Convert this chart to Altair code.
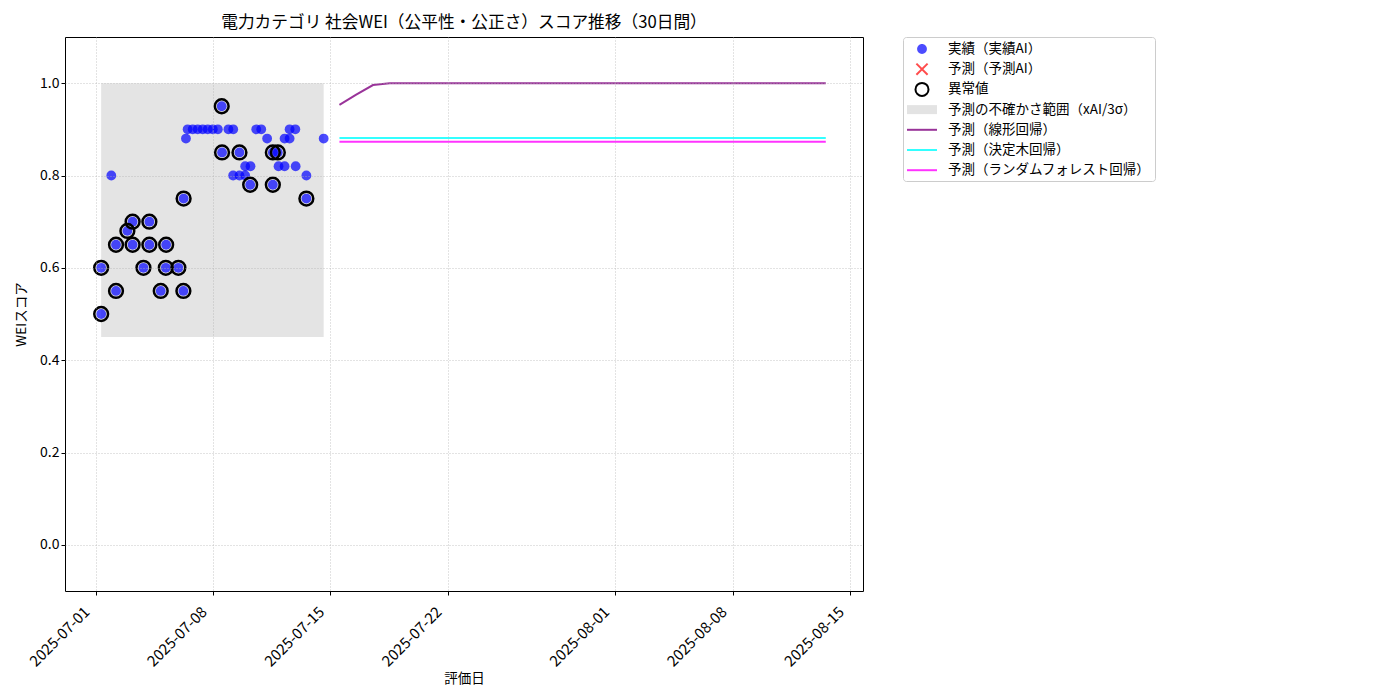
import altair as alt
import pandas as pd

FONT = "Noto Sans CJK JP"

# ---- actual scores (実績) ----
actual_dates = [
    "2025-07-01T08:00", "2025-07-01T08:00", "2025-07-01T22:30", "2025-07-02T05:15",
    "2025-07-02T05:15", "2025-07-02T21:30", "2025-07-03T05:00", "2025-07-03T05:00",
    "2025-07-03T20:30", "2025-07-04T05:00", "2025-07-04T05:00", "2025-07-04T21:15",
    "2025-07-05T05:00", "2025-07-05T04:30", "2025-07-05T22:30", "2025-07-06T05:40",
    "2025-07-06T06:00", "2025-07-06T09:20", "2025-07-06T11:45", "2025-07-06T19:00",
    "2025-07-07T02:10", "2025-07-07T09:20", "2025-07-07T16:30", "2025-07-07T23:45",
    "2025-07-08T07:00", "2025-07-08T12:30", "2025-07-08T13:00", "2025-07-08T22:05",
    "2025-07-09T04:50", "2025-07-09T05:00", "2025-07-09T13:55", "2025-07-09T13:55",
    "2025-07-09T22:05", "2025-07-09T22:05", "2025-07-10T05:15", "2025-07-10T05:45",
    "2025-07-10T13:55", "2025-07-10T21:05", "2025-07-11T05:30", "2025-07-11T13:40",
    "2025-07-11T13:40", "2025-07-11T20:50", "2025-07-11T21:50", "2025-07-12T06:30",
    "2025-07-12T06:30", "2025-07-12T13:40", "2025-07-12T13:40", "2025-07-12T21:50",
    "2025-07-12T22:20", "2025-07-13T13:40", "2025-07-13T13:40", "2025-07-14T14:25",
]
actual_values = [
    0.50, 0.60, 0.80, 0.65,
    0.55, 0.68, 0.70, 0.65,
    0.60, 0.70, 0.65, 0.55,
    0.65, 0.60, 0.60, 0.55,
    0.75, 0.88, 0.90, 0.90,
    0.90, 0.90, 0.90, 0.90,
    0.90, 0.95, 0.85, 0.90,
    0.80, 0.90, 0.85, 0.80,
    0.82, 0.80, 0.78, 0.82,
    0.90, 0.90, 0.88, 0.85,
    0.78, 0.85, 0.82, 0.88,
    0.82, 0.90, 0.88, 0.90,
    0.82, 0.80, 0.75, 0.88,
]
anomaly_flags = [
    1, 1, 0, 1,
    1, 1, 1, 1,
    1, 1, 1, 1,
    1, 1, 1, 1,
    1, 0, 0, 0,
    0, 0, 0, 0,
    0, 1, 1, 0,
    0, 0, 1, 0,
    0, 0, 1, 0,
    0, 0, 0, 1,
    1, 1, 0, 0,
    0, 0, 0, 0,
    0, 0, 1, 0,
]

# ---- uncertainty band ----
band_start = ["2025-07-01T08:00"]
band_end = ["2025-07-14T14:25"]
band_low = [0.45]
band_high = [1.00]

# ---- forecasts (30 days) ----
forecast_dates = pd.date_range("2025-07-15 13:00", periods=30, freq="D").strftime("%Y-%m-%dT%H:%M").tolist()
linear_values = [0.953, 0.975, 0.996, 1.0, 1.0, 1.0, 1.0, 1.0, 1.0, 1.0,
                 1.0, 1.0, 1.0, 1.0, 1.0, 1.0, 1.0, 1.0, 1.0, 1.0,
                 1.0, 1.0, 1.0, 1.0, 1.0, 1.0, 1.0, 1.0, 1.0, 1.0]
tree_values = [0.881, 0.881, 0.881, 0.881, 0.881, 0.881, 0.881, 0.881, 0.881, 0.881,
               0.881, 0.881, 0.881, 0.881, 0.881, 0.881, 0.881, 0.881, 0.881, 0.881,
               0.881, 0.881, 0.881, 0.881, 0.881, 0.881, 0.881, 0.881, 0.881, 0.881]
forest_values = [0.873, 0.873, 0.873, 0.873, 0.873, 0.873, 0.873, 0.873, 0.873, 0.873,
                 0.873, 0.873, 0.873, 0.873, 0.873, 0.873, 0.873, 0.873, 0.873, 0.873,
                 0.873, 0.873, 0.873, 0.873, 0.873, 0.873, 0.873, 0.873, 0.873, 0.873]

model_names = ["予測（線形回帰）", "予測（決定木回帰）", "予測（ランダムフォレスト回帰）"]
model_colors = ["rgba(128,0,128,0.8)", "rgba(0,255,255,0.8)", "rgba(255,0,255,0.8)"]

# ---- legend entries ----
legend_labels = ["実績（実績AI）", "予測（予測AI）", "異常値", "予測の不確かさ範囲（xAI/3σ）",
                 "予測（線形回帰）", "予測（決定木回帰）", "予測（ランダムフォレスト回帰）"]
legend_shapes = [
    "M-0.7,0A0.7,0.7,0,1,1,0.7,0A0.7,0.7,0,1,1,-0.7,0Z",
    "M-0.8,-0.8L0.8,0.8M0.8,-0.8L-0.8,0.8",
    "M-0.93,0A0.93,0.93,0,1,1,0.93,0A0.93,0.93,0,1,1,-0.93,0Z",
    "M-2.143,-0.643L2.143,-0.643L2.143,0.643L-2.143,0.643Z",
    "M-2.143,0L2.143,0",
    "M-2.143,0L2.143,0",
    "M-2.143,0L2.143,0",
]
legend_fills = ["rgba(0,0,255,0.7)", "transparent", "transparent", "rgba(128,128,128,0.22)",
                "transparent", "transparent", "transparent"]
legend_strokes = ["transparent", "rgba(255,0,0,0.7)", "black", "transparent",
                  "rgba(128,0,128,0.8)", "rgba(0,255,255,0.8)", "rgba(255,0,255,0.8)"]

# ---- data frames ----
actual_df = pd.DataFrame({"date": actual_dates, "score": actual_values, "anomaly": anomaly_flags})
anomaly_df = actual_df[actual_df["anomaly"] == 1]
band_df = pd.DataFrame({"start": band_start, "end": band_end, "low": band_low, "high": band_high})
forecast_df = pd.concat([
    pd.DataFrame({"date": forecast_dates, "score": linear_values, "model": model_names[0]}),
    pd.DataFrame({"date": forecast_dates, "score": tree_values, "model": model_names[1]}),
    pd.DataFrame({"date": forecast_dates, "score": forest_values, "model": model_names[2]}),
])

x_domain = [alt.DateTime(year=2025, month=6, date=29, hours=4, minutes=15),
            alt.DateTime(year=2025, month=8, date=15, hours=18, minutes=15)]
x_ticks = [alt.DateTime(year=2025, month=7, date=1), alt.DateTime(year=2025, month=7, date=8),
           alt.DateTime(year=2025, month=7, date=15), alt.DateTime(year=2025, month=7, date=22),
           alt.DateTime(year=2025, month=8, date=1), alt.DateTime(year=2025, month=8, date=8),
           alt.DateTime(year=2025, month=8, date=15)]
y_ticks = [0.0, 0.2, 0.4, 0.6, 0.8, 1.0]

common_grid = dict(grid=True, gridColor="#b0b0b0", gridDash=[1, 2], gridWidth=0.8, gridOpacity=0.9,
                   domain=False, tickColor="black", tickSize=4, labelColor="black",
                   titleFontSize=13.5, titleFontWeight="normal", titleColor="black",
                   labelFont=FONT, titleFont=FONT, zindex=1)

x_enc = alt.X("date:T", scale=alt.Scale(domain=x_domain, nice=False),
              axis=alt.Axis(values=x_ticks, format="%Y-%m-%d", labelAngle=315, labelAlign="right",
                            labelBaseline="top", labelOffset=-14, labelPadding=9, labelFontSize=15,
                            title="評価日", titlePadding=2, **common_grid))
y_scale = alt.Scale(domain=[-0.1, 1.1], nice=False, zero=False)
y_enc = alt.Y("score:Q", scale=y_scale,
              axis=alt.Axis(values=y_ticks, format=".1f", title="WEIスコア", titlePadding=11,
                            labelFontSize=14, **common_grid))

band = alt.Chart(band_df).mark_rect(color="#808080", opacity=0.21).encode(
    x=alt.X("start:T", scale=alt.Scale(domain=x_domain, nice=False)),
    x2="end:T",
    y=alt.Y("low:Q", scale=y_scale),
    y2="high:Q",
)

lines = alt.Chart(forecast_df).mark_line(strokeWidth=2).encode(
    x=x_enc,
    y=y_enc,
    color=alt.Color("model:N", scale=alt.Scale(domain=model_names, range=model_colors), legend=None),
    detail="model:N",
)

points = alt.Chart(actual_df).mark_circle(size=96, color="#0000ff", opacity=0.7).encode(
    x="date:T", y="score:Q"
)

rings = alt.Chart(anomaly_df).mark_point(size=190, color="black", strokeWidth=2.5, filled=False, opacity=1).encode(
    x="date:T", y="score:Q"
)

leg = alt.Legend(title=None, orient="none", legendX=838, legendY=0, padding=4,
                 symbolSize=196, symbolStrokeWidth=2, symbolOffset=7,
                 symbolFillColor="transparent", symbolStrokeColor="transparent", symbolOpacity=1,
                 labelFont=FONT, labelFontSize=13.5, labelColor="black", labelOffset=18, labelLimit=400,
                 gridAlign="all", rowPadding=-1.8, strokeColor="#cccccc", fillColor="white", cornerRadius=3)

legend_layer = alt.Chart(alt.Data(values=[])).mark_point().encode(
    shape=alt.Shape("label:N", scale=alt.Scale(domain=legend_labels, range=legend_shapes), legend=leg),
    fill=alt.Fill("label:N", scale=alt.Scale(domain=legend_labels, range=legend_fills), legend=leg),
    stroke=alt.Stroke("label:N", scale=alt.Scale(domain=legend_labels, range=legend_strokes), legend=leg),
)

chart = alt.layer(band, lines, points, rings, legend_layer).properties(
    width=798,
    height=554,
    title=alt.TitleParams("電力カテゴリ 社会WEI（公平性・公正さ）スコア推移（30日間）",
                          fontSize=16.7, fontWeight="normal", font=FONT, anchor="middle", offset=5,
                          color="black"),
    autosize=alt.AutoSizeParams(type="none"),
    padding={"left": 57, "top": 29, "right": 500, "bottom": 100},
).configure(font=FONT).configure_view(stroke="black", strokeWidth=1)

chart.save("out.html", embed_options={"renderer": "svg", "actions": False})
